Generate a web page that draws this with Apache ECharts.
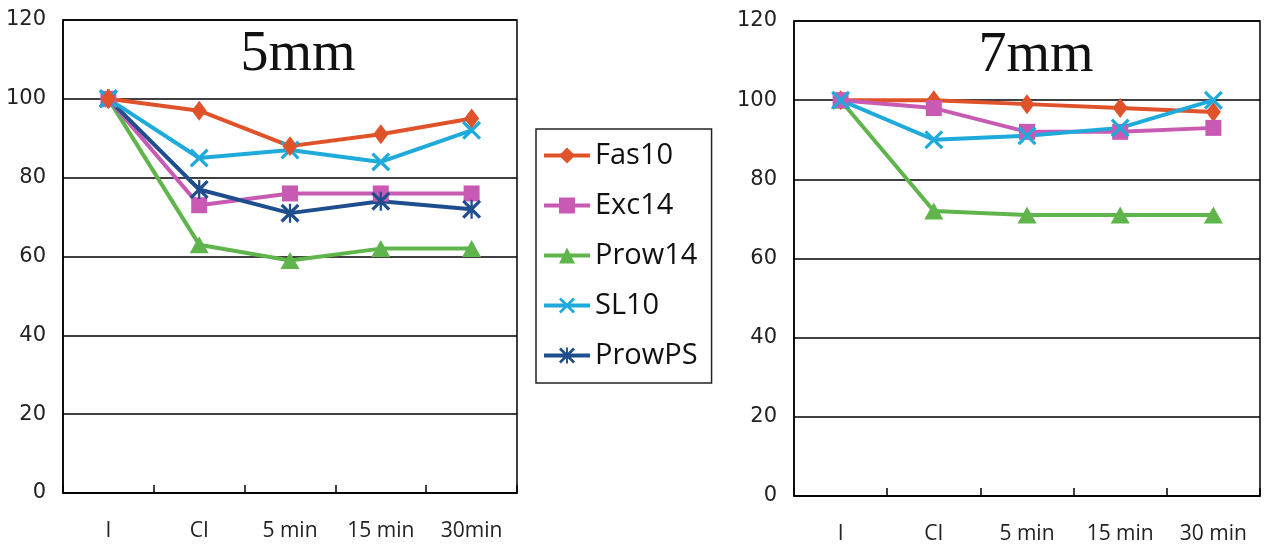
<!DOCTYPE html>
<html>
<head>
<meta charset="utf-8">
<script src="https://cdn.jsdelivr.net/npm/echarts@6/dist/echarts.min.js"></script>
<style>html,body{margin:0;padding:0;background:#fff;}#c{width:1287px;height:548px;}</style>
</head>
<body>
<div id="c"></div>
<script>
const categoriesLeft = ['I', 'CI', '5 min', '15 min', '30min'];
const categoriesRight = ['I', 'CI', '5 min', '15 min', '30 min'];
const yTicks = [0, 20, 40, 60, 80, 100, 120];
const seriesNames = ['Fas10', 'Exc14', 'Prow14', 'SL10', 'ProwPS'];

// 5mm panel
const fas10_5mm  = [100, 97, 88, 91, 95];
const exc14_5mm  = [100, 73, 76, 76, 76];
const prow14_5mm = [100, 63, 59, 62, 62];
const sl10_5mm   = [100, 85, 87, 84, 92];
const prowPS_5mm = [100, 77, 71, 74, 72];

// 7mm panel
const fas10_7mm  = [100, 100, 99, 98, 97];
const exc14_7mm  = [100, 98, 92, 92, 93];
const prow14_7mm = [100, 72, 71, 71, 71];
const sl10_7mm   = [100, 90, 91, 93, 100];

const colors = {
  Fas10: '#e0522a',
  Exc14: '#c95ab3',
  Prow14: '#5fb54b',
  SL10: '#1eaadb',
  ProwPS: '#1f4e8e'
};
const xPath = 'path://M0,1.2L1.2,0L10,8.8L8.8,10Z M8.8,0L10,1.2L1.2,10L0,8.8Z';
const starPath = 'path://M0,1.2L1.2,0L10,8.8L8.8,10Z M8.8,0L10,1.2L1.2,10L0,8.8Z M4.4,0L5.6,0L5.6,10L4.4,10Z';
const symbols = {
  Fas10: ['diamond', [15, 20]],
  Exc14: ['rect', 16],
  Prow14: ['triangle', [19, 17]],
  SL10: [xPath, 19],
  ProwPS: [starPath, 19]
};

const xFont = {fontFamily: 'Open Sans', fontSize: 21, color: '#222'};
const yFont = {fontFamily: 'DejaVu Sans', fontSize: 21, color: '#222'};

function mkSeries(name, data, idx) {
  return {
    name: name, type: 'line', data: data,
    xAxisIndex: idx, yAxisIndex: idx,
    symbol: symbols[name][0], symbolSize: symbols[name][1],
    itemStyle: {color: colors[name]},
    lineStyle: {color: colors[name], width: 4},
    animation: false
  };
}

function yAxis(idx) {
  return {
    type: 'value', gridIndex: idx, min: 0, max: 120, interval: 20,
    axisLine: {show: true, lineStyle: {color: '#000', width: 1.5}},
    axisTick: {show: false},
    axisLabel: Object.assign({margin: 17}, yFont),
    splitLine: {show: true, lineStyle: {color: '#000', width: 1.5}}
  };
}
function xAxis(idx, cats) {
  return {
    type: 'category', gridIndex: idx, data: cats, boundaryGap: true,
    axisLine: {show: true, lineStyle: {color: '#000', width: 1.5}},
    axisTick: {show: true, inside: true, length: 8, lineStyle: {color: '#000', width: 1.5}},
    axisLabel: Object.assign({margin: 28}, xFont),
    splitLine: {show: false}
  };
}

const chart = echarts.init(document.getElementById('c'));
chart.setOption({
  animation: false,
  backgroundColor: '#fff',
  grid: [
    {left: 63, top: 20, width: 454, height: 473, show: true, borderColor: '#000', borderWidth: 1.5, backgroundColor: 'transparent'},
    {left: 794, top: 21, width: 466, height: 475, show: true, borderColor: '#000', borderWidth: 1.5, backgroundColor: 'transparent'}
  ],
  xAxis: [xAxis(0, categoriesLeft), xAxis(1, categoriesRight)],
  yAxis: [yAxis(0), yAxis(1)],
  legend: {
    data: seriesNames,
    orient: 'vertical',
    left: 536, top: 129,
    padding: [12, 14, 13, 6],
    itemGap: 21,
    itemWidth: 46, itemHeight: 20,
    lineStyle: {width: 4},
    borderColor: '#222', borderWidth: 1.5,
    backgroundColor: '#fff',
    textStyle: {fontFamily: 'Open Sans', fontSize: 29, color: '#111', lineHeight: 29, padding: [0, 0, 0, 0]},
    selectedMode: false
  },
  graphic: [
    {type: 'text', x: 298, y: 55, style: {text: '5mm', font: '56px "Liberation Serif"', fill: '#111', textAlign: 'center', textVerticalAlign: 'middle'}},
    {type: 'text', x: 1036, y: 56, style: {text: '7mm', font: '56px "Liberation Serif"', fill: '#111', textAlign: 'center', textVerticalAlign: 'middle'}}
  ],
  series: [
    mkSeries('Prow14', prow14_5mm, 0),
    mkSeries('Exc14', exc14_5mm, 0),
    mkSeries('ProwPS', prowPS_5mm, 0),
    mkSeries('SL10', sl10_5mm, 0),
    mkSeries('Fas10', fas10_5mm, 0),
    mkSeries('Prow14', prow14_7mm, 1),
    mkSeries('Fas10', fas10_7mm, 1),
    mkSeries('Exc14', exc14_7mm, 1),
    mkSeries('SL10', sl10_7mm, 1)
  ]
});
</script>
</body>
</html>
